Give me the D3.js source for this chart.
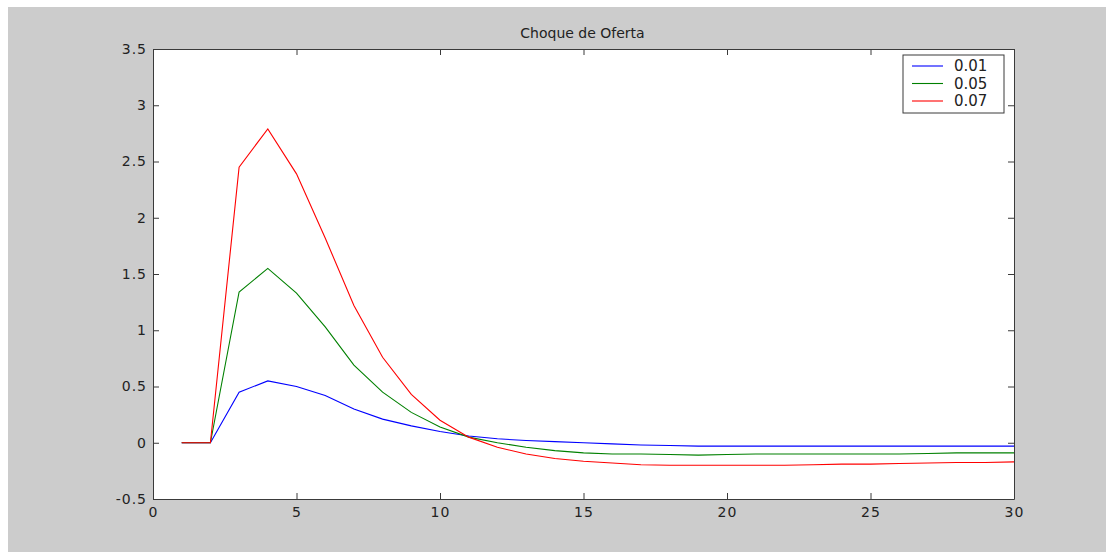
<!DOCTYPE html>
<html>
<head>
<meta charset="utf-8">
<script src="https://cdnjs.cloudflare.com/ajax/libs/d3/7.8.5/d3.min.js"></script>
<style>
  body { margin: 0; background: #fff; }
  text { font-family: "DejaVu Sans", "Liberation Sans", Arial, sans-serif; }
</style>
</head>
<body>
<div id="chart"></div>
<script>
// periods and impulse responses
var periods = d3.range(1, 31)
var series01 = [0, 0, 0.45, 0.55, 0.5, 0.42, 0.3, 0.21, 0.15, 0.1, 0.06, 0.035, 0.02, 0.01, 0, -0.01, -0.02, -0.025, -0.03, -0.03, -0.03, -0.03, -0.03, -0.03, -0.03, -0.03, -0.03, -0.03, -0.03, -0.03]
var series05 = [0, 0, 1.34, 1.55, 1.33, 1.03, 0.69, 0.45, 0.27, 0.14, 0.05, 0.0, -0.04, -0.07, -0.09, -0.1, -0.1, -0.105, -0.11, -0.105, -0.1, -0.1, -0.1, -0.1, -0.1, -0.1, -0.095, -0.09, -0.09, -0.09]
var series07 = [0, 0, 2.45, 2.79, 2.39, 1.82, 1.22, 0.76, 0.43, 0.2, 0.05, -0.04, -0.1, -0.14, -0.165, -0.18, -0.195, -0.2, -0.2, -0.2, -0.2, -0.2, -0.195, -0.19, -0.19, -0.185, -0.18, -0.175, -0.175, -0.17]
var seriesNames = ['0.01', '0.05', '0.07']
var seriesColors = ['#0000ff', '#008000', '#ff0000']
var xTicks = [0, 5, 10, 15, 20, 25, 30]
var yTicks = [-0.5, 0, 0.5, 1, 1.5, 2, 2.5, 3, 3.5]

var width = 1106, height = 552
var plotLeft = 153, plotRight = 1014, plotTop = 49, plotBottom = 499

var svg = d3.select('#chart').append('svg')
    .attr('width', width)
    .attr('height', height)

svg.append('rect')
    .attr('x', 8).attr('y', 7)
    .attr('width', width - 8).attr('height', height - 7)
    .attr('fill', '#cccccc')

svg.append('rect')
    .attr('x', plotLeft).attr('y', plotTop)
    .attr('width', plotRight - plotLeft).attr('height', plotBottom - plotTop)
    .attr('fill', '#ffffff')

var x = d3.scaleLinear().domain([0, 30]).range([plotLeft, plotRight])
var y = d3.scaleLinear().domain([-0.5, 3.5]).range([plotBottom, plotTop])

var fmt = function(d) { return String(d) }

// axes with inward ticks on all four sides
svg.append('g')
    .attr('transform', 'translate(0,' + plotBottom + ')')
    .call(d3.axisBottom(x).tickValues(xTicks).tickFormat(fmt).tickSizeInner(-6).tickSizeOuter(0).tickPadding(8))
svg.append('g')
    .attr('transform', 'translate(0,' + plotTop + ')')
    .call(d3.axisTop(x).tickValues(xTicks).tickFormat('').tickSizeInner(-6).tickSizeOuter(0))
svg.append('g')
    .attr('transform', 'translate(' + plotLeft + ',0)')
    .call(d3.axisLeft(y).tickValues(yTicks).tickFormat(fmt).tickSizeInner(-6).tickSizeOuter(0).tickPadding(6))
svg.append('g')
    .attr('transform', 'translate(' + plotRight + ',0)')
    .call(d3.axisRight(y).tickValues(yTicks).tickFormat('').tickSizeInner(-6).tickSizeOuter(0))

svg.selectAll('.domain').attr('stroke', '#3a3a3a')
svg.selectAll('.tick line').attr('stroke', '#3a3a3a')
svg.selectAll('.tick text')
    .attr('fill', '#222')
    .style('font-size', '14px')
    .style('letter-spacing', '1px')

var allSeries = [series01, series05, series07]
var line = d3.line()
    .x(function(d, i) { return x(periods[i]) })
    .y(function(d) { return y(d) })

svg.append('g')
    .selectAll('path')
    .data(allSeries)
    .enter()
    .append('path')
    .attr('d', line)
    .attr('fill', 'none')
    .attr('stroke', function(d, i) { return seriesColors[i] })
    .attr('stroke-width', 1.1)

svg.append('text')
    .attr('x', (plotLeft + plotRight) / 2 - 1)
    .attr('y', 38)
    .attr('text-anchor', 'middle')
    .attr('fill', '#222')
    .style('font-size', '14px')
    .text('Choque de Oferta')

// legend
var lg = svg.append('g')
lg.append('rect')
    .attr('x', 903).attr('y', 55)
    .attr('width', 101).attr('height', 58)
    .attr('fill', '#fff')
    .attr('stroke', '#3a3a3a')

seriesNames.forEach(function(name, i) {
    var ly = 66 + i * 17.5
    lg.append('line')
        .attr('x1', 912).attr('x2', 943)
        .attr('y1', ly).attr('y2', ly)
        .attr('stroke', seriesColors[i])
        .attr('stroke-width', 1.1)
    lg.append('text')
        .attr('x', 954).attr('y', ly + 5)
        .attr('fill', '#222')
        .style('font-size', '15px')
        .text(name)
})
</script>
</body>
</html>
